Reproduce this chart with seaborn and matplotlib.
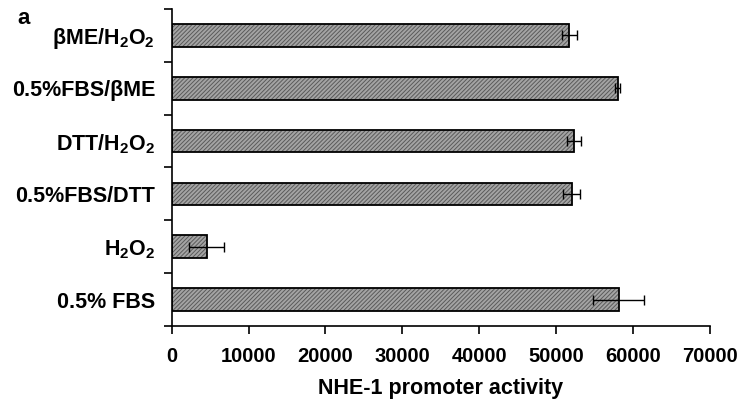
import pandas as pd
import matplotlib
matplotlib.use('Agg')
import matplotlib.pyplot as plt
import seaborn as sns

# NHE-1 promoter activity under different treatments (panel a)
conditions = ['βME/H$_2$O$_2$', '0.5%FBS/βME', 'DTT/H$_2$O$_2$',
              '0.5%FBS/DTT', 'H$_2$O$_2$', '0.5% FBS']
activity = [51700, 58000, 52300, 52000, 4550, 58100]
errors = [1000, 300, 950, 1150, 2300, 3300]
xticks = [0, 10000, 20000, 30000, 40000, 50000, 60000, 70000]

df = pd.DataFrame({'condition': conditions, 'activity': activity, 'err': errors})

sns.set_style('white')
plt.rcParams['font.family'] = ['Liberation Sans', 'DejaVu Sans']
plt.rcParams['font.weight'] = 'bold'
plt.rcParams['mathtext.fontset'] = 'custom'
plt.rcParams['mathtext.rm'] = 'Liberation Sans:bold'
plt.rcParams['mathtext.default'] = 'rm'
plt.rcParams['hatch.linewidth'] = 0.7
for key in ['text.color', 'axes.labelcolor', 'xtick.color', 'ytick.color']:
    plt.rcParams[key] = 'black'

fig = plt.figure(figsize=(7.39, 4.01), dpi=100)
ax = fig.add_axes([0.2323, 0.187, 0.7285, 0.7906])

# hatched grey fill, then black outline on top
sns.barplot(data=df, x='activity', y='condition', orient='h', ax=ax,
            color='#a4a4a4', width=0.43, errorbar=None, saturation=1,
            hatch='////////', edgecolor='#5a5a5a', linewidth=0)
sns.barplot(data=df, x='activity', y='condition', orient='h', ax=ax,
            fill=False, width=0.43, errorbar=None,
            edgecolor='black', linewidth=1.3)
ax.errorbar(df['activity'], range(len(df)), xerr=df['err'], fmt='none',
            ecolor='black', elinewidth=1, capsize=3.5, capthick=1)

ax.set_xlim(0, 70000)
ax.set_ylim(5.5, -0.5)
ax.set_xticks(xticks)
ax.set_xticklabels([str(t) for t in xticks], fontsize=14.5, fontweight='bold')
ax.set_yticks(range(len(conditions)))
ax.set_yticklabels(conditions, fontsize=15.5, fontweight='bold')
ax.set_yticks([i - 0.5 for i in range(len(conditions) + 1)], minor=True)
ax.tick_params(axis='y', which='major', length=0, pad=12)
ax.tick_params(axis='y', which='minor', length=6, width=1.2, direction='out', left=True)
ax.tick_params(axis='x', length=6, width=1.2, direction='out', bottom=True, pad=9)
ax.set_xlabel('NHE-1 promoter activity', fontsize=15.5, fontweight='bold', labelpad=9)
ax.set_ylabel('')
sns.despine(ax=ax)
for s in ['left', 'bottom']:
    ax.spines[s].set_linewidth(1.2)
    ax.spines[s].set_color('black')

fig.text(0.023, 0.94, 'a', fontsize=16, fontweight='bold')

fig.savefig('out.png', dpi=100)
